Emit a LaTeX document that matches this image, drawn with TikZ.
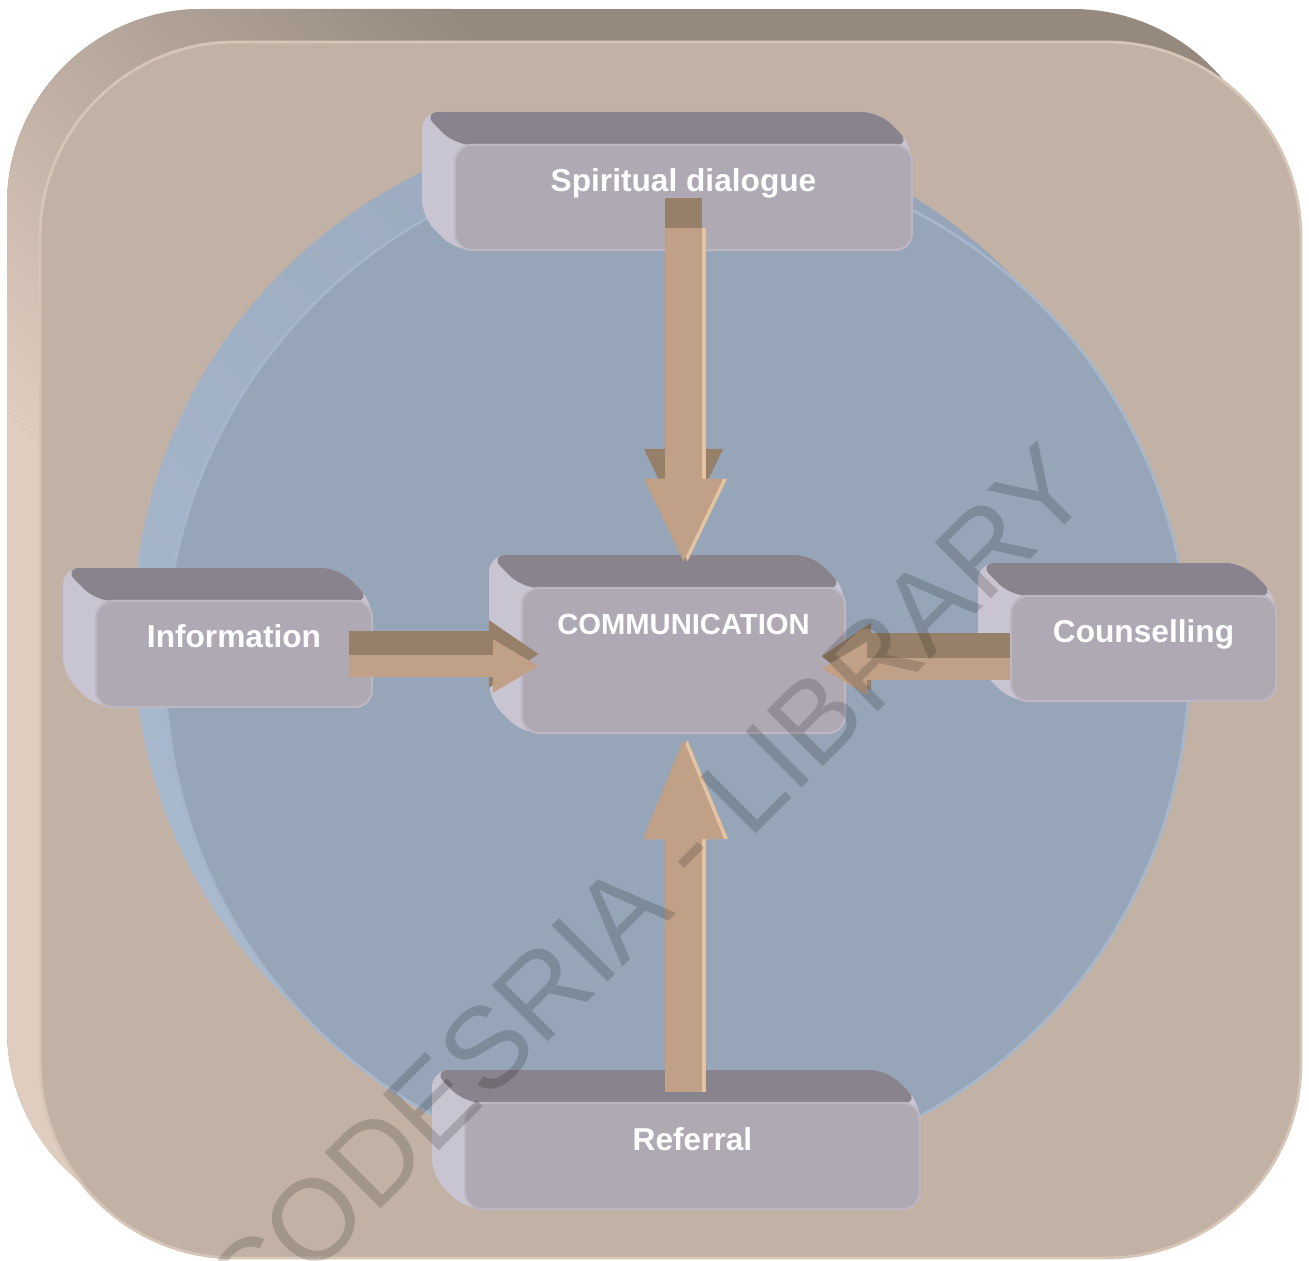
\documentclass[tikz,border=0pt]{standalone}
\usepackage{fontspec}
\setmainfont{Liberation Sans}
\usetikzlibrary{arrows.meta}

\definecolor{slabface}{HTML}{C2B2A5}
\definecolor{slabtop}{HTML}{968A7F}
\definecolor{slabside}{HTML}{DFCDBF}
\definecolor{slabedge}{HTML}{D6C6B8}
\definecolor{discface}{HTML}{96A5B8}
\definecolor{discside}{HTML}{A9B9CE}
\definecolor{discedge}{HTML}{A6B6CB}
\definecolor{boxface}{HTML}{AFA9B4}
\definecolor{boxtop}{HTML}{88838C}
\definecolor{boxside}{HTML}{C9C4D1}
\definecolor{boxedge}{HTML}{BCB7C3}
\definecolor{arrowface}{HTML}{C0A087}
\definecolor{arrowdark}{HTML}{978069}
\definecolor{arrowlight}{HTML}{E3C3A0}

\begin{document}
\begin{tikzpicture}[x=0.01cm, y=-0.01cm,
  face/.style={fill=boxface, draw=boxedge, line width=0.6pt, rounded corners=0.17cm,
    inner sep=0pt, text=white, text height=0.47cm},
  toppart/.style={fill=boxtop, rounded corners=0.17cm},
  sidepart/.style={fill=boxside, rounded corners=0.17cm},
  diag/.style={transform canvas={rotate around={45:(637,617)}}},
  vshaft/.style={line width=0.37cm, -{Triangle[length=0.85cm,width=0.72cm]}},
  hshaft/.style={line width=0.46cm, draw=arrowdark, -{Triangle[length=0.5cm,width=0.64cm]}},
  hface/.style={line width=0.22cm, draw=arrowface, -{Triangle[length=0.46cm,width=0.5cm]},
    transform canvas={yshift=-0.12cm}},
  stamp/.style={text=black, text opacity=0.16, font=\fontsize{32.7}{39}\selectfont,
    rotate=45, anchor=base, inner sep=0pt}]
\useasboundingbox (0,0) rectangle (1309,1261);
\clip (0,0) rectangle (1309,1261);

\begin{scope}
  \clip[rounded corners=1.95cm] (7,9) rectangle (1268,1225);
  \fill[slabtop] (7,9) rectangle (1268,1225);
  \fill[slabside, diag] (-1400,-1400) rectangle (337,2600);
  \shade[left color=slabside, right color=slabtop, diag] (337,-1400) rectangle (937,2600);
\end{scope}
\fill[slabface, draw=slabedge, line width=0.8pt, rounded corners=1.95cm] (40,42) rectangle (1301,1258);

\shade[top color=discface, bottom color=discside, shading angle=-45] (645,633) circle (512);
\fill[discface, draw=discedge, line width=0.8pt] (677,665) circle (512);

\foreach \nm/\cx/\cy/\bw/\bh/\dep/\fs/\txt in {
  spir/683.5/197.5/457/105/0.58/9/Spiritual dialogue,
  comm/683.5/660.5/323/145/0.98/8.3/COMMUNICATION,
  info/234/654/276/106/0.59/9/Information,
  coun/1143.5/648.5/265/105/0.58/9/Counselling,
  refe/692.5/1156/455/106/0.59/9/Referral}
{
  \fill[sidepart] (\cx-\bw/2-33,\cy-\bh/2-33) -- (\cx+\bw/2-33,\cy-\bh/2-33) -- (\cx+\bw/2,\cy-\bh/2)
    -- (\cx+\bw/2,\cy+\bh/2) -- (\cx-\bw/2,\cy+\bh/2) -- (\cx-\bw/2-33,\cy+\bh/2-33) -- cycle;
  \fill[toppart] (\cx-\bw/2-33,\cy-\bh/2-33) -- (\cx+\bw/2-33,\cy-\bh/2-33) -- (\cx+\bw/2,\cy-\bh/2)
    -- (\cx-\bw/2,\cy-\bh/2) -- cycle;
  \node[face, minimum width={\bw*0.01cm}, text depth=\dep cm, font=\fontsize{\fs}{11}\selectfont\bfseries]
    (\nm) at (\cx,\cy) {\txt};
}

\draw[vshaft, draw=arrowdark, transform canvas={yshift=0.3cm}] ([yshift=0.23cm]spir.south) -- ([yshift=0.23cm]comm.north);
\draw[vshaft, draw=arrowlight, transform canvas={xshift=0.04cm}] ([yshift=0.23cm]spir.south) -- ([yshift=0.23cm]comm.north);
\draw[vshaft, draw=arrowface] ([yshift=0.23cm]spir.south) -- ([yshift=0.23cm]comm.north);

\draw[vshaft, draw=arrowlight, transform canvas={xshift=0.04cm}, -{Triangle[length=1.05cm,width=0.72cm]}]
  ([yshift=0.1cm]refe.north -| comm.south) -- (comm.south);
\draw[vshaft, draw=arrowface, -{Triangle[length=1.05cm,width=0.72cm]}]
  ([yshift=0.1cm]refe.north -| comm.south) -- (comm.south);

\draw[hshaft] ([xshift=-0.24cm]info.east) -- ([xshift=0.18cm]info.east -| comm.west);
\draw[hface] ([xshift=-0.24cm]info.east) -- ([xshift=0.18cm]info.east -| comm.west);

\draw[hshaft] ([yshift=-0.08cm]coun.west) -- ([yshift=-0.08cm,xshift=-0.25cm]coun.west -| comm.east);
\draw[hface] ([yshift=-0.08cm]coun.west) -- ([yshift=-0.08cm,xshift=-0.25cm]coun.west -| comm.east);

\node[stamp] (codesria) at (674,916) {CODESRIA - LIBRARY};
\end{tikzpicture}
\end{document}
